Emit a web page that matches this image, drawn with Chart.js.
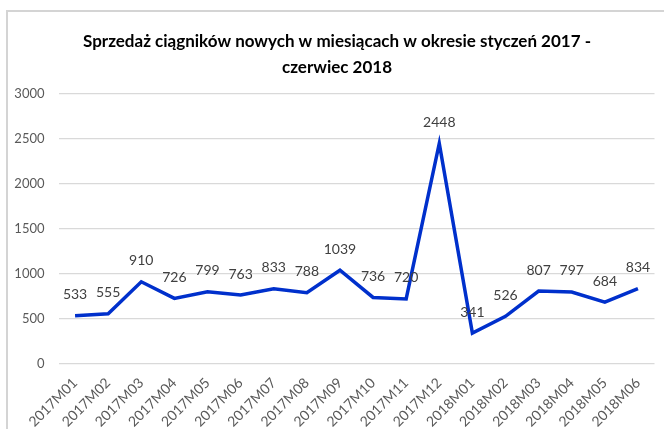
<!DOCTYPE html>
<html>
<head>
<meta charset="utf-8">
<script src="https://cdn.jsdelivr.net/npm/chart.js@4/dist/chart.umd.min.js"></script>
<style>
html,body{margin:0;padding:0;background:#fff;}
#wrap{position:relative;width:664px;height:429px;overflow:hidden;}
#frame{position:absolute;left:6px;top:10px;width:700px;height:500px;border-left:2px solid #d4d4d4;border-top:2px solid #d4d4d4;box-sizing:border-box;}
canvas{position:absolute;left:0;top:0;}
</style>
</head>
<body>
<div id="wrap">
<div id="frame"></div>
<canvas id="c" width="664" height="429"></canvas>
</div>
<script>
const categories = ["2017M01","2017M02","2017M03","2017M04","2017M05","2017M06","2017M07","2017M08","2017M09","2017M10","2017M11","2017M12","2018M01","2018M02","2018M03","2018M04","2018M05","2018M06"];
const sales = [533,555,910,726,799,763,833,788,1039,736,720,2448,341,526,807,797,684,834];
const titleLines = ["Sprzedaż ciągników nowych w miesiącach w okresie styczeń 2017 -","czerwiec 2018"];
const yMin = 0, yMax = 3000, yStep = 500;

const FONT = 'Lato, "Open Sans", sans-serif';

const labelPlugin = {
  id: 'valueLabels',
  afterDatasetsDraw(chart) {
    const ctx = chart.ctx;
    const meta = chart.getDatasetMeta(0);
    ctx.save();
    ctx.font = '14px ' + FONT;
    ctx.fillStyle = '#404040';
    ctx.textAlign = 'center';
    ctx.textBaseline = 'middle';
    meta.data.forEach((pt, i) => {
      ctx.fillText(String(sales[i]), pt.x, pt.y - 21);
    });
    // title drawn at reference centre
    ctx.font = 'bold 17px ' + FONT;
    ctx.fillStyle = '#000000';
    titleLines.forEach((t, i) => {
      ctx.fillText(t, 337, 42 + i * 25.5);
    });
    ctx.restore();
  }
};

new Chart(document.getElementById('c'), {
  type: 'line',
  data: {
    labels: categories,
    datasets: [{
      data: sales,
      borderColor: '#0030cc',
      borderWidth: 3.5,
      pointRadius: 0,
      tension: 0,
      fill: false
    }]
  },
  options: {
    responsive: false,
    animation: false,
    devicePixelRatio: 1,
    layout: { padding: { left: 0, right: 9.5, top: 0, bottom: 0 } },
    plugins: {
      legend: { display: false },
      tooltip: { enabled: false },
      title: {
        display: true,
        text: titleLines,
        color: 'rgba(0,0,0,0)',
        font: { family: FONT, size: 17, weight: 'bold', lineHeight: 1.5 },
        padding: { top: 29, bottom: 13.7 }
      }
    },
    scales: {
      x: {
        offset: true,
        grid: { display: false, drawTicks: false },
        border: { display: false },
        ticks: {
          color: '#595959',
          font: { family: FONT, size: 14 },
          minRotation: 45, maxRotation: 45,
          autoSkip: false,
          padding: 11
        },
        afterFit(s) { s.height = 65.3; }
      },
      y: {
        min: yMin, max: yMax,
        grid: { color: '#d9d9d9', lineWidth: 1.3, drawTicks: false },
        border: { display: false },
        ticks: {
          stepSize: yStep,
          color: '#595959',
          font: { family: FONT, size: 13 },
          padding: 14,
          callback: (v) => String(v)
        },
        afterFit(s) { s.width = 58.5; }
      }
    }
  },
  plugins: [labelPlugin]
});
</script>
</body>
</html>
